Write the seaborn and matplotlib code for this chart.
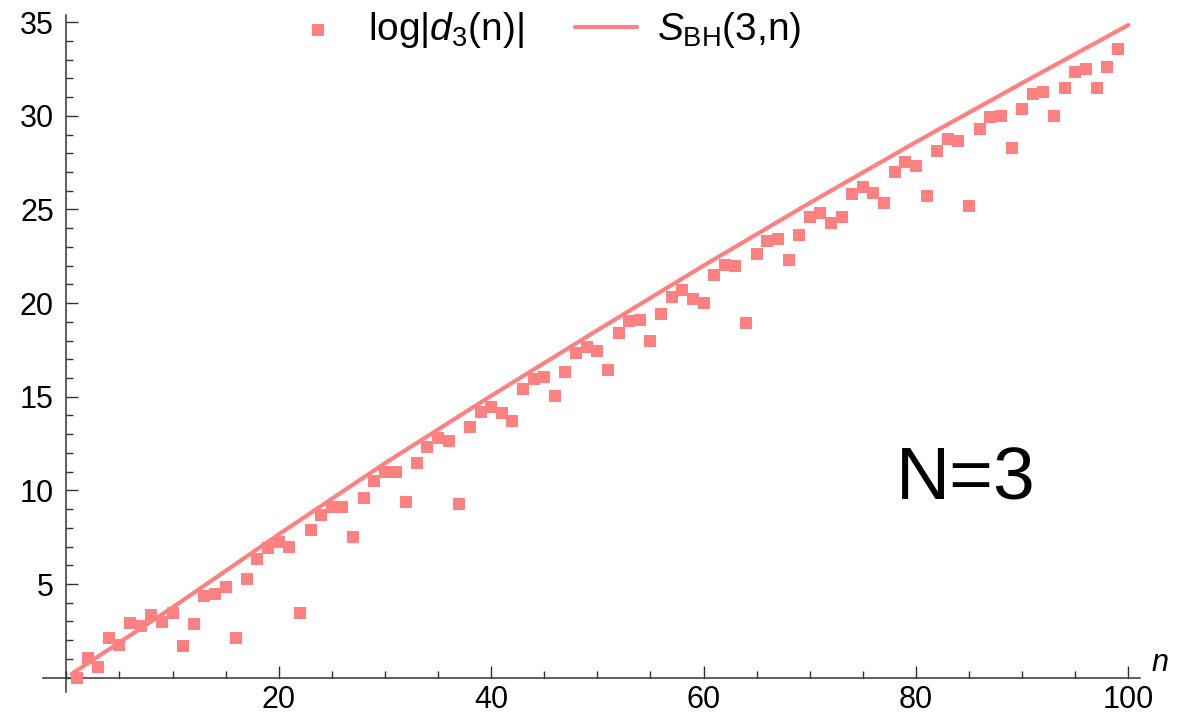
import numpy as np
import pandas as pd
import seaborn as sns
import matplotlib.pyplot as plt
from matplotlib.ticker import MultipleLocator

# log|d_3(n)| for n = 1..99
n_vals = list(range(1, 100))
log_d3 = [0.0, 1.04, 0.59, 2.1, 1.75, 2.94, 2.78, 3.35, 2.99, 3.47,
          1.71, 2.85, 4.36, 4.47, 4.83, 2.1, 5.25, 6.34, 6.91, 7.23,
          7.0, 3.47, 7.89, 8.67, 9.12, 9.1, 7.5, 9.58, 10.52, 10.97,
          10.97, 9.36, 11.45, 12.33, 12.81, 12.65, 9.26, 13.4, 14.2, 14.47,
          14.12, 13.72, 15.4, 15.95, 16.07, 15.06, 16.3, 17.32, 17.64, 17.43,
          16.41, 18.42, 19.06, 19.11, 17.99, 19.4, 20.34, 20.7, 20.24, 20.02,
          21.52, 22.05, 21.96, 18.95, 22.64, 23.33, 23.44, 22.32, 23.64, 24.61,
          24.83, 24.26, 24.61, 25.81, 26.18, 25.86, 25.36, 26.98, 27.52, 27.34,
          25.73, 28.14, 28.75, 28.67, 25.2, 29.28, 29.95, 30.0, 28.3, 30.38,
          31.18, 31.29, 30.0, 31.5, 32.35, 32.5, 31.5, 32.62, 33.55]

# S_BH(3,n) curve, sampled
s_n = [0.5, 10, 20, 30, 40, 50, 60, 70, 80, 90, 100]
s_bh = [0.2, 3.75, 7.65, 11.45, 15.05, 18.55, 22.0, 25.35, 28.6, 31.75, 34.85]

x_major = [20, 40, 60, 80, 100]
y_major = [5, 10, 15, 20, 25, 30, 35]

pink = '#ff8080'

sns.set_style('ticks')
plt.rcParams['font.family'] = ['Liberation Sans', 'DejaVu Sans']
plt.rcParams['mathtext.fontset'] = 'custom'
plt.rcParams['mathtext.rm'] = 'Liberation Sans'
plt.rcParams['mathtext.it'] = 'Liberation Sans:italic'

df_pts = pd.DataFrame({'n': n_vals, 'v': log_d3})
df_line = pd.DataFrame({'n': s_n, 'v': s_bh})

fig = plt.figure(figsize=(12.03, 7.18), dpi=100)
ax = fig.add_axes([0.0357, 0.0366, 0.912, 0.943])

sns.lineplot(data=df_line, x='n', y='v', ax=ax, color=pink, lw=3.0,
             estimator=None, label=r'$S_{\mathrm{BH}}$(3,n)', zorder=2)
sns.scatterplot(data=df_pts, x='n', y='v', ax=ax, color=pink, marker='s',
                s=65, linewidth=0, label=r'log|$d_3$(n)|', zorder=3)

ax.set_xlim(-2.2, 101.1)
ax.set_ylim(-0.75, 35.4)
ax.set_xlabel('')
ax.set_ylabel('')

# axes crossing at the origin, Mathematica style
for side in ['top', 'right']:
    ax.spines[side].set_visible(False)
ax.spines['left'].set_position(('data', 0))
ax.spines['bottom'].set_position(('data', 0))
for side in ['left', 'bottom']:
    ax.spines[side].set_color('#333333')
    ax.spines[side].set_linewidth(1.1)

ax.set_xticks(x_major)
ax.set_yticks(y_major)
ax.xaxis.set_minor_locator(MultipleLocator(5))
ax.yaxis.set_minor_locator(MultipleLocator(1))
ax.tick_params(which='major', direction='in', length=8.5, width=1.0, color='#333333',
               labelsize=22, labelcolor='black')
ax.tick_params(which='minor', direction='in', length=5, width=1.0, color='#333333')
ax.tick_params(axis='x', which='major', pad=5)
ax.tick_params(axis='y', which='major', pad=9)

ax.text(103, 0.8, 'n', fontsize=22, style='italic', color='black',
        ha='center', va='center', clip_on=False)
ax.text(84.7, 10.55, 'N=3', fontsize=54, color='black', ha='center', va='center')

# legend order: points first, then line
h, l = ax.get_legend_handles_labels()
leg = ax.legend([h[1], h[0]], [l[1], l[0]], loc='center', bbox_to_anchor=(0.452, 0.958),
                bbox_transform=fig.transFigure, ncol=2, frameon=False, fontsize=28,
                handlelength=1.6, handletextpad=0.5, columnspacing=1.3, borderaxespad=0,
                markerscale=1.16)
for t in leg.get_texts():
    t.set_color('black')

fig.savefig('out.png', dpi=100)
